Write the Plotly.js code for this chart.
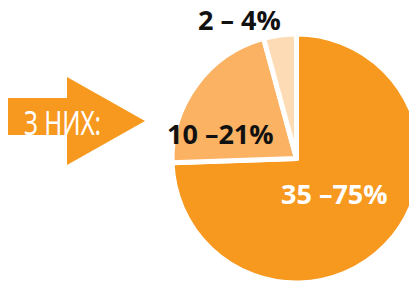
<!DOCTYPE html>
<html>
<head>
<meta charset="utf-8">
<script src="https://cdn.plot.ly/plotly-3.0.1.min.js"></script>
<style>
html,body{margin:0;padding:0;overflow:hidden;background:#fff;width:409px;height:282px;}
#chart{width:430px;height:300px;}
</style>
</head>
<body>
<div id="chart"></div>
<script>
// Data
const categories = ['35', '10', '2'];
const values = [35, 10, 2];
const sliceLabels = ['35 –75%', '10 –21%', '2 – 4%'];
const arrowLabel = 'З НИХ:';
const sliceColors = ['#F7991F', '#FBB263', '#FDDCB5'];

const W = 430, H = 300;
const px = x => x / W;
const py = y => 1 - y / H;

// pie geometry (pixels)
const cx = 296.5, cy = 158.5, r = 124.5;

const trace = {
  type: 'pie',
  labels: categories,
  values: values,
  sort: false,
  direction: 'clockwise',
  rotation: 0,
  textinfo: 'none',
  hoverinfo: 'none',
  marker: {colors: sliceColors, line: {color: '#ffffff', width: 5}},
  domain: {x: [px(cx - r), px(cx + r)], y: [py(cy + r), py(cy - r)]},
  showlegend: false
};

const labelPos = [[334, 194, '#ffffff', 'middle'], [220, 133, '#111111', 'middle'], [239, 0, '#111111', 'top']];
const annotations = sliceLabels.map((t, i) => ({
  text: t, xref: 'paper', yref: 'paper',
  x: px(labelPos[i][0]), y: py(labelPos[i][1]),
  xanchor: 'center', yanchor: labelPos[i][3], showarrow: false, borderpad: 0,
  font: {family: 'Open Sans, sans-serif', size: 27, weight: 700, color: labelPos[i][2]}
}));
annotations.push({
  text: arrowLabel, xref: 'paper', yref: 'paper',
  x: px(62), y: py(122), xanchor: 'center', yanchor: 'middle', showarrow: false,
  font: {family: 'Noto Sans, sans-serif', size: 33, weight: 400, color: '#ffffff'}
});

const pts = [[8,98],[67,98],[67,77],[145,121],[67,165],[67,135],[8,135]];
const path = 'M' + pts.map(p => px(p[0]) + ',' + py(p[1])).join(' L') + ' Z';

const layout = {
  width: W, height: H,
  margin: {l: 0, r: 0, t: 0, b: 0},
  paper_bgcolor: '#ffffff',
  plot_bgcolor: '#ffffff',
  shapes: [{type: 'path', xref: 'paper', yref: 'paper', path: path,
            fillcolor: '#F7991F', line: {width: 0}, layer: 'below'}],
  annotations: annotations
};

Plotly.newPlot('chart', [trace], layout, {displayModeBar: false, staticPlot: true}).then(gd => {
  const texts = gd.querySelectorAll('.annotation-text');
  const t = texts[texts.length - 1];
  if (t) {
    t.setAttribute('textLength', '77');
    t.setAttribute('lengthAdjust', 'spacingAndGlyphs');
  }
});
</script>
</body>
</html>
